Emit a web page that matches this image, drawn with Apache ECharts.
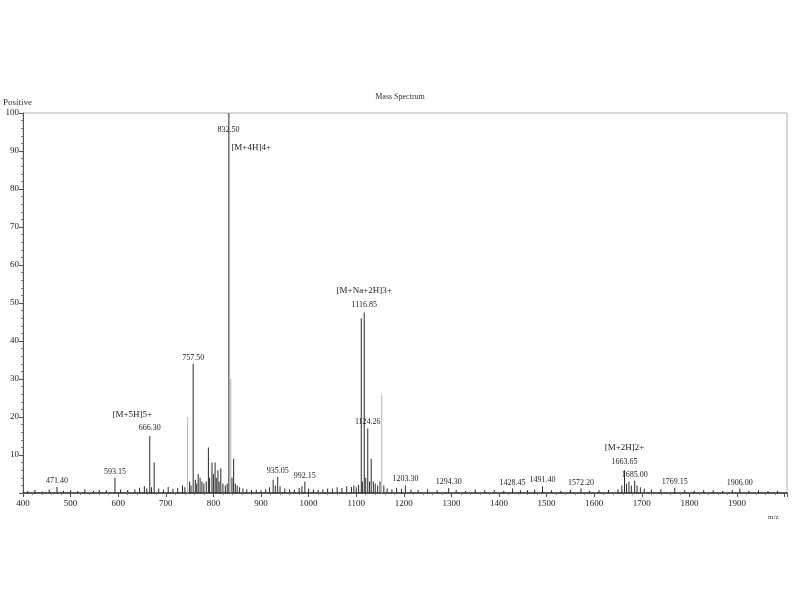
<!DOCTYPE html>
<html lang="en">

<head>
    <meta charset="UTF-8">
    <title>Mass Spectrum</title>
    <style>
        * {
            margin: 0;
            padding: 0;
        }

        body {
            background: #fff;
        }

        .box {
            width: 800px;
            height: 600px;
        }
    </style>
</head>

<body>
    <div class="box"></div>

    <script src="https://cdn.jsdelivr.net/npm/echarts@6/dist/echarts.min.js"></script>
    <script>
        // peaks (m/z, relative intensity %)
        var mz = [
            410, 425, 440, 455, 471.4, 485, 500, 515, 530, 548,
            560, 575, 593.15, 605, 620, 635, 645, 655, 660, 666.3,
            670, 675.5, 685, 695, 705, 715, 725, 735, 740, 745.8,
            750, 753, 757.5, 762, 765, 768, 772, 776, 780, 785,
            789.5, 792, 797, 800, 803.5, 806, 809.5, 812, 815.5, 820,
            825, 829, 832.5, 836.5, 839, 842.5, 846, 850, 855, 862,
            870, 880, 890, 900, 910, 918, 925.5, 930, 935.05, 940,
            950, 960, 970, 980, 986, 992.15, 1000, 1010, 1020, 1030,
            1040, 1050, 1060, 1070, 1080, 1090, 1095, 1100, 1105, 1110.6,
            1113, 1116.85, 1120, 1124.26, 1128, 1131.5, 1136, 1140, 1145, 1150,
            1153.5, 1158, 1165, 1175, 1185, 1195, 1203.3, 1215, 1230, 1250,
            1270, 1294.3, 1310, 1330, 1350, 1370, 1390, 1410, 1428.45, 1445,
            1460, 1475, 1491.4, 1510, 1530, 1550, 1572.2, 1590, 1610, 1630,
            1650, 1658, 1663.65, 1668, 1673, 1678, 1685, 1690, 1697, 1705,
            1720, 1740, 1769.15, 1790, 1810, 1830, 1850, 1870, 1890, 1906,
            1925, 1945, 1965, 1985
        ];
        var intensity = [
            0.5, 0.8, 0.4, 0.9, 1.6, 0.6, 0.7, 0.5, 1.0, 0.6,
            0.8, 0.7, 4.0, 0.9, 0.8, 1.0, 1.4, 1.8, 1.2, 15,
            1.5, 8, 1.2, 0.9, 1.6, 1.1, 1.3, 2.0, 1.5, 20,
            3, 2, 34, 3.5, 2.5, 5, 4, 3, 2.5, 3,
            12, 4, 8, 5, 8, 4, 6, 3, 6.5, 2.5,
            2, 2.5, 100, 30, 4, 9, 2.5, 2, 1.5, 1.2,
            1.0, 0.8, 0.9, 0.7, 1.0, 1.5, 3.5, 2, 4.2, 1.8,
            1.2, 1.0, 0.9, 1.3, 1.8, 3, 1.2, 0.9, 0.8, 1.0,
            1.2, 1.1, 1.5, 1.3, 1.8, 1.6, 2.0, 1.5, 2.2, 46,
            3, 47.5, 4, 17, 3, 9, 3, 2.5, 2, 3,
            26, 2, 1.2, 1.0, 1.4, 1.1, 2, 0.9, 0.8, 1.0,
            0.7, 1.3, 0.8, 0.6, 0.9, 0.7, 0.8, 0.6, 1.2, 0.7,
            0.8, 0.9, 1.8, 0.7, 0.6, 0.8, 1.2, 0.6, 0.7, 0.8,
            1.0, 2.0, 6, 2.5, 3, 2, 3.2, 2, 1.5, 1.2,
            0.9, 1.0, 1.3, 0.7, 0.6, 0.8, 0.7, 0.6, 0.8, 1.2,
            0.6, 0.7, 0.5, 0.6
        ];
        // lines that show up pale in the print
        var faintMz = [836.5, 1153.5, 745.8];

        var labelMz = [471.4, 593.15, 666.3, 757.5, 832.5, 935.05, 992.15, 1116.85, 1124.26,
            1203.3, 1294.3, 1428.45, 1491.4, 1572.2, 1663.65, 1685, 1769.15, 1906];
        var labelText = ['471.40', '593.15', '666.30', '757.50', '832.50', '935.05', '992.15', '1116.85', '1124.26',
            '1203.30', '1294.30', '1428.45', '1491.40', '1572.20', '1663.65', '1685.00', '1769.15', '1906.00'];

        var ionMz = [666.3, 832.5, 1116.85, 1663.65];
        var ionText = ['[M+5H]5+', '[M+4H]4+', '[M+Na+2H]3+', '[M+2H]2+'];

        var font = 'Liberation Serif';
        var myChart = echarts.init(document.querySelector('.box'));

        var data = [];
        mz.forEach(function (m, i) {
            var item = { value: [m, intensity[i]] };
            if (faintMz.indexOf(m) >= 0) {
                item.itemStyle = { color: '#b5b5b5' };
            }
            var li = labelMz.indexOf(m);
            if (li >= 0) {
                var txt = labelText[li];
                var ii = ionMz.indexOf(m);
                item.label = { show: true, formatter: txt };
                if (ii >= 0) {
                    if (m === 832.5) {
                        // tallest peak: text sits inside the frame
                        item.label = {
                            show: true,
                            position: [-11, 8],
                            align: 'left',
                            verticalAlign: 'top',
                            formatter: '{v|' + txt + '}\n{i|' + ionText[ii] + '}',
                            rich: {
                                v: { fontFamily: font, fontSize: 8, lineHeight: 18, color: '#222' },
                                i: { fontFamily: font, fontSize: 9, lineHeight: 18, padding: [0, 0, 0, 14], color: '#222' }
                            }
                        };
                    } else {
                        item.label = {
                            show: true,
                            formatter: '{i|' + ionText[ii] + '}\n{v|' + txt + '}',
                            rich: {
                                i: {
                                    fontFamily: font, fontSize: 9, lineHeight: m === 1663.65 ? 18 : 15, color: '#222',
                                    padding: m === 666.3 ? [0, 35, 0, 0] : 0
                                },
                                v: { fontFamily: font, fontSize: 8, lineHeight: 12, color: '#222' }
                            }
                        };
                    }
                }
            }
            data.push(item);
        });

        var option = {
            backgroundColor: '#fff',
            animation: false,
            title: {
                text: 'Mass Spectrum',
                left: 'center',
                top: 88,
                textStyle: { fontFamily: font, fontSize: 8, fontWeight: 'normal', color: '#333' }
            },
            graphic: [
                { type: 'text', left: 3, top: 98, style: { text: 'Positive', font: '9px "Liberation Serif"', fill: '#333' } },
                { type: 'text', left: 768, top: 514, style: { text: 'm/z', font: '7px "Liberation Serif"', fill: '#444' } }
            ],
            grid: {
                left: 23,
                right: 13,
                top: 113,
                bottom: 107,
                show: true,
                borderColor: '#b0b0b0',
                borderWidth: 1
            },
            xAxis: {
                type: 'value',
                min: 400,
                max: 2005,
                interval: 100,
                splitLine: { show: false },
                axisLine: { lineStyle: { color: '#333', width: 1.5 } },
                axisTick: { length: 4, lineStyle: { color: '#555' } },
                minorTick: { show: true, splitNumber: 5, length: 2, lineStyle: { color: '#777' } },
                axisLabel: {
                    fontFamily: font, fontSize: 9, color: '#222', margin: 6,
                    formatter: function (v) {
                        return (v % 100 === 0 && v < 2000) ? String(v) : '';
                    }
                }
            },
            yAxis: {
                type: 'value',
                min: 0,
                max: 100,
                interval: 10,
                splitLine: { show: false },
                axisLine: { show: true, lineStyle: { color: '#555' } },
                axisTick: { show: true, length: 4, lineStyle: { color: '#555' } },
                minorTick: { show: true, splitNumber: 5, length: 2, lineStyle: { color: '#777' } },
                axisLabel: {
                    fontFamily: font, fontSize: 9, color: '#222', margin: 4,
                    formatter: function (v) {
                        return v === 0 ? '' : String(v);
                    }
                }
            },
            series: [{
                name: 'Mass Spectrum',
                type: 'bar',
                barWidth: 1,
                data: data,
                itemStyle: { color: '#2a2a2a' },
                label: {
                    show: false,
                    position: 'top',
                    distance: 2,
                    fontFamily: font,
                    fontSize: 8,
                    color: '#222'
                }
            }]
        };
        myChart.setOption(option);
    </script>
</body>

</html>
